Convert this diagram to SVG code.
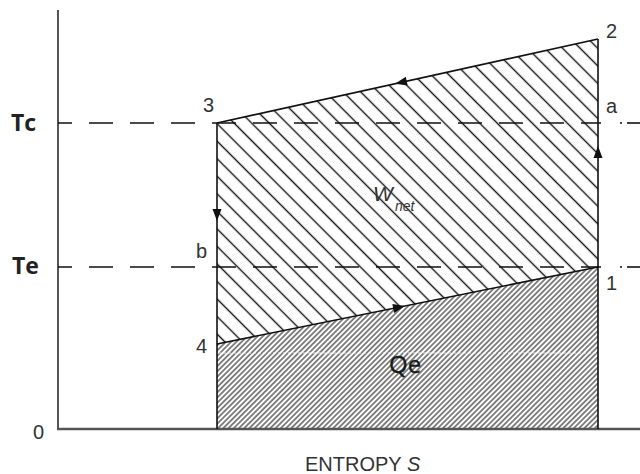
<svg xmlns="http://www.w3.org/2000/svg" width="640" height="474" viewBox="0 0 640 474">
<style>
.axis{stroke:#555;stroke-width:2.5;fill:none}
.cyc{stroke:#111;stroke-width:1.6;fill:none}
.dash{stroke:#111;stroke-width:1.6;stroke-dasharray:24 17;stroke-dashoffset:10;fill:none}
.dd{stroke:#111;stroke-width:1.6;fill:none}
.num{font-family:"Liberation Sans",Arial,sans-serif;font-size:20px;fill:#333}
.tl{font-family:"Open Sans","Liberation Sans",sans-serif;font-weight:700;font-size:23px;fill:#222}
.it{font-family:"Liberation Sans",Arial,sans-serif;font-style:italic;fill:#333}
</style>
<defs>
<pattern id="hatchA" patternUnits="userSpaceOnUse" width="12.4" height="12.4" patternTransform="translate(0,3) rotate(45)">
<line x1="-1" y1="6.2" x2="13.4" y2="6.2" stroke="#111" stroke-width="1.4"/>
</pattern>
<pattern id="hatchB" patternUnits="userSpaceOnUse" width="6" height="3.7" patternTransform="rotate(-45)">
<line x1="-1" y1="1.85" x2="7" y2="1.85" stroke="#222" stroke-width="1.1"/>
</pattern>
<path id="arr" d="M0,0 L-12,-4.5 L-12,4.5 Z" fill="#111"/>
</defs>

<g id="regions">
<polygon id="wnet-area" points="217,123 598,39 598,267 217,344" fill="url(#hatchA)"/>
<polygon id="qe-area" points="217,344 598,267 598,429 217,429" fill="url(#hatchB)"/>
<line x1="218" y1="353" x2="597" y2="353" stroke="#fff" stroke-width="0.8" stroke-dasharray="3 2"/>
</g>

<g id="axes">
<line class="axis" x1="58" y1="10" x2="58" y2="430" style="stroke-width:2"/>
<line class="axis" x1="57" y1="429" x2="640" y2="429"/>
</g>

<g id="connectors">
<line class="dash" x1="58" y1="123" x2="601" y2="123"/>
<line class="dd" x1="620" y1="123" x2="622" y2="123"/>
<line class="dd" x1="627" y1="123" x2="640" y2="123"/>
<line class="dash" x1="58" y1="267" x2="601" y2="267"/>
<line class="dd" x1="620" y1="267" x2="622" y2="267"/>
<line class="dd" x1="627" y1="267" x2="640" y2="267"/>
<line class="cyc" x1="217" y1="123" x2="598" y2="39"/>
<line class="cyc" x1="217" y1="344" x2="598" y2="267"/>
<line class="cyc" x1="217" y1="123" x2="217" y2="429"/>
<line class="cyc" x1="598" y1="39" x2="598" y2="429"/>
<use href="#arr" transform="translate(395,83.7) rotate(167.6)"/>
<use href="#arr" transform="translate(405,306.1) rotate(-11.4)"/>
<use href="#arr" transform="translate(217,221) rotate(90)"/>
<use href="#arr" transform="translate(598,146) rotate(-90)"/>
</g>

<g id="labels">
<text class="tl" x="11" y="131">Tc</text>
<text class="tl" x="12" y="274">Te</text>
<text class="num" x="203" y="112">3</text>
<text class="num" x="606" y="38">2</text>
<text class="num" x="606" y="113">a</text>
<text class="num" x="196" y="258">b</text>
<text class="num" x="196" y="353">4</text>
<text class="num" x="606" y="290">1</text>
<text class="num" x="33" y="439">0</text>
<text class="it" x="373" y="201" font-size="21">W</text>
<text class="it" x="395" y="211" font-size="14">net</text>
<text x="389" y="373" font-family="'Open Sans','Liberation Sans',sans-serif" font-size="24" fill="#1a1a1a" stroke="#1a1a1a" stroke-width="0.4">Qe</text>
<text x="305" y="471" font-family="'Liberation Sans',Arial,sans-serif" font-size="20" fill="#333">ENTROPY <tspan font-style="italic">S</tspan></text>
</g>
</svg>
